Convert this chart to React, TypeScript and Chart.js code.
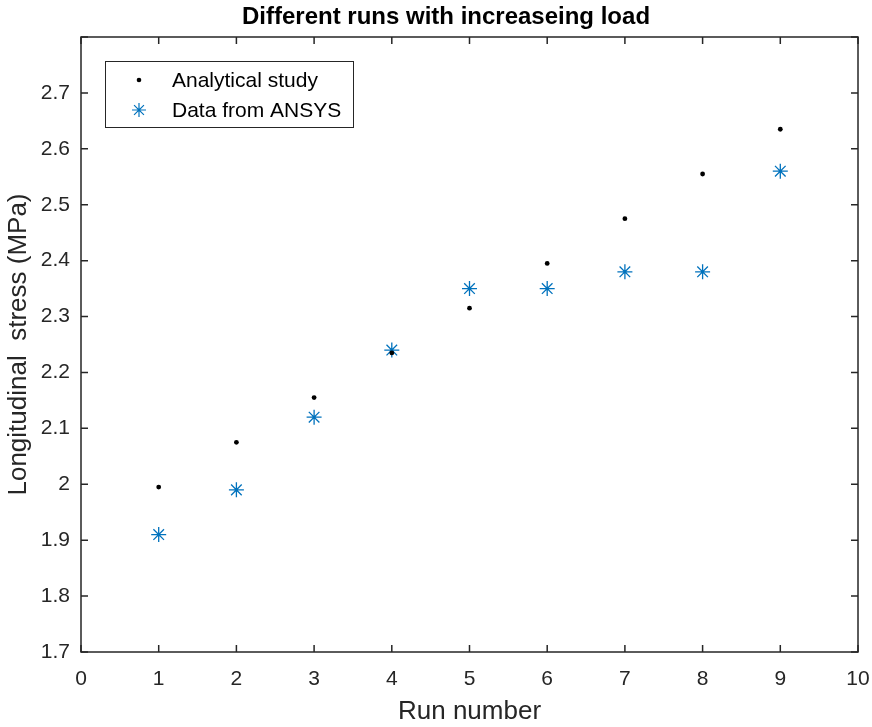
import React, { useEffect, useRef } from "react";
import { Chart, registerables } from "chart.js";

Chart.register(...registerables);

const runs = [1, 2, 3, 4, 5, 6, 7, 8, 9];
const analytical = [1.995, 2.075, 2.155, 2.235, 2.315, 2.395, 2.475, 2.555, 2.635];
const ansys = [1.91, 1.99, 2.12, 2.24, 2.35, 2.35, 2.38, 2.38, 2.56];
const seriesNames = ["Analytical study", "Data from ANSYS"];
const titleText = "Different runs with increaseing load";
const xTitle = "Run number";
const yTitle = "Longitudinal  stress (MPa)";

const AXIS = "#262626";
const BLUE = "#0072BD";
const FONT = "Arial, 'Liberation Sans', Helvetica, sans-serif";

function drawStar(ctx: CanvasRenderingContext2D, sx: number, sy: number, r: number) {
  ctx.beginPath();
  for (let k = 0; k < 4; k++) {
    const ang = (k * Math.PI) / 4;
    ctx.moveTo(sx - r * Math.cos(ang), sy - r * Math.sin(ang));
    ctx.lineTo(sx + r * Math.cos(ang), sy + r * Math.sin(ang));
  }
  ctx.stroke();
}

const boxPlugin = {
  id: "matlabBox",
  afterDraw(chart: any) {
    const { ctx, chartArea: a, scales } = chart;
    ctx.save();
    ctx.strokeStyle = AXIS;
    ctx.lineWidth = 1.5;
    ctx.strokeRect(a.left, a.top, a.right - a.left, a.bottom - a.top);
    const tl = 7;
    ctx.beginPath();
    scales.x.ticks.forEach((t: any) => {
      const px = scales.x.getPixelForValue(t.value);
      ctx.moveTo(px, a.bottom);
      ctx.lineTo(px, a.bottom - tl);
      ctx.moveTo(px, a.top);
      ctx.lineTo(px, a.top + tl);
    });
    scales.y.ticks.forEach((t: any) => {
      const py = scales.y.getPixelForValue(t.value);
      ctx.moveTo(a.left, py);
      ctx.lineTo(a.left + tl, py);
      ctx.moveTo(a.right, py);
      ctx.lineTo(a.right - tl, py);
    });
    ctx.stroke();

    // title
    ctx.fillStyle = "#000";
    ctx.font = `bold 24px ${FONT}`;
    ctx.textAlign = "center";
    ctx.textBaseline = "middle";
    ctx.fillText(titleText, 446, 17);

    // legend
    const lx = 105, ly = 61, lw = 248, lh = 66;
    ctx.fillStyle = "#fff";
    ctx.fillRect(lx, ly, lw, lh);
    ctx.strokeStyle = AXIS;
    ctx.lineWidth = 1;
    ctx.strokeRect(lx + 0.5, ly + 0.5, lw, lh);
    ctx.fillStyle = "#000";
    ctx.beginPath();
    ctx.arc(139, 80, 2.3, 0, Math.PI * 2);
    ctx.fill();
    ctx.strokeStyle = BLUE;
    ctx.lineWidth = 1.2;
    drawStar(ctx, 139, 110, 7);
    ctx.fillStyle = "#000";
    ctx.font = `21px ${FONT}`;
    ctx.textAlign = "left";
    ctx.fillText(seriesNames[0], 172, 81);
    ctx.fillText(seriesNames[1], 172, 111);
    ctx.restore();
  },
};

export default function App() {
  const ref = useRef<HTMLCanvasElement>(null);
  useEffect(() => {
    document.body.style.margin = "0";
    const chart = new Chart(ref.current!, {
      type: "scatter",
      data: {
        datasets: [
          {
            label: seriesNames[0],
            data: runs.map((x, i) => ({ x, y: analytical[i] })),
            pointStyle: "circle",
            pointRadius: 2.4,
            backgroundColor: "#000",
            borderColor: "#000",
            borderWidth: 0,
          },
          {
            label: seriesNames[1],
            data: runs.map((x, i) => ({ x, y: ansys[i] })),
            pointStyle: "star",
            pointRadius: 7.5,
            backgroundColor: BLUE,
            borderColor: BLUE,
            borderWidth: 1.3,
          },
        ],
      },
      options: {
        animation: false,
        responsive: false,
        maintainAspectRatio: false,
        layout: { padding: { left: 0, right: 14, top: 37, bottom: 0 } },
        plugins: {
          legend: { display: false },
          title: { display: false },
          tooltip: { enabled: false },
        },
        scales: {
          x: {
            type: "linear",
            min: 0,
            max: 10,
            grid: { display: false, drawTicks: false },
            border: { display: false },
            ticks: {
              stepSize: 1,
              color: AXIS,
              padding: 15,
              font: { family: FONT, size: 21 },
            },
            title: {
              display: true,
              text: xTitle,
              color: AXIS,
              font: { family: FONT, size: 26 },
              padding: { top: 0, bottom: 0 },
            },
            afterFit: (s: any) => {
              s.height = 75;
              s.paddingLeft = 0;
              s.paddingRight = 0;
            },
          },
          y: {
            min: 1.7,
            max: 2.8,
            grid: { display: false, drawTicks: false },
            border: { display: false },
            ticks: {
              stepSize: 0.1,
              color: AXIS,
              padding: 11,
              font: { family: FONT, size: 21 },
              callback: (v: any) => {
                const n = Math.round(Number(v) * 10) / 10;
                if (n > 2.75) return "";
                return String(n);
              },
            },
            title: {
              display: true,
              text: yTitle,
              color: AXIS,
              font: { family: FONT, size: 26 },
              padding: { top: 3, bottom: 0 },
            },
            afterFit: (s: any) => {
              s.width = 81;
              s.paddingTop = 0;
              s.paddingBottom = 0;
            },
          },
        },
      },
      plugins: [boxPlugin],
    });
    return () => chart.destroy();
  }, []);
  return (
    <div style={{ position: "absolute", left: 0, top: 0, width: 872, height: 727, background: "#fff" }}>
      <canvas ref={ref} width={872} height={727} style={{ width: 872, height: 727, display: "block" }} />
    </div>
  );
}
